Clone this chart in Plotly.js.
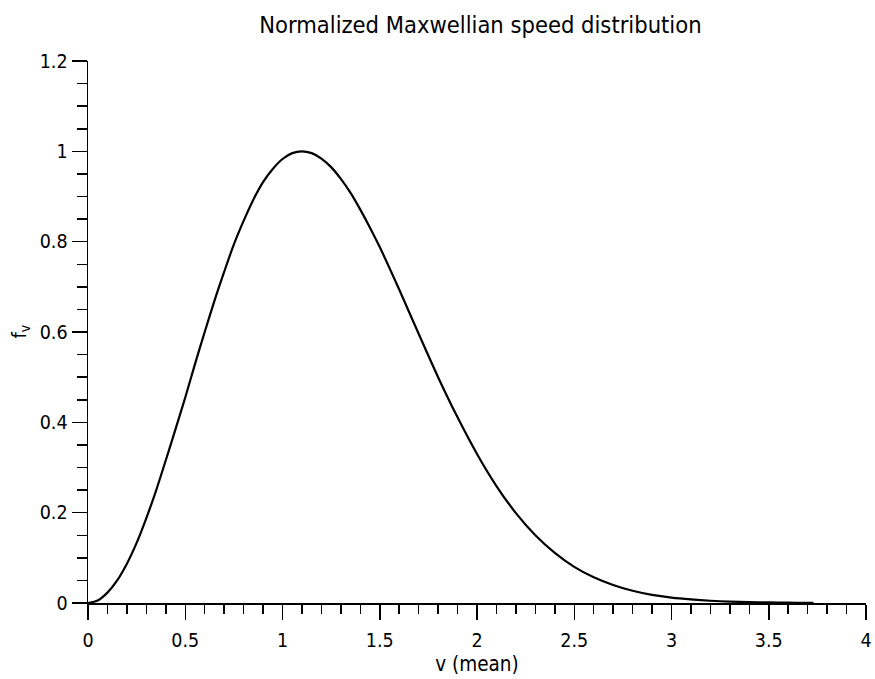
<!DOCTYPE html>
<html>
<head>
<meta charset="utf-8">
<script src="https://cdn.plot.ly/plotly-3.0.1.min.js"></script>
<style>html,body{margin:0;padding:0;background:#fff}</style>
</head>
<body>
<div id="chart" style="width:875px;height:679px"></div>
<script>
const speed = [0,0.05,0.1,0.15,0.2,0.25,0.3,0.35,0.4,0.45,0.5,0.55,0.6,0.65,0.7,0.75,0.8,0.85,0.9,0.95,1.0,1.05,1.1,1.15,1.2,1.25,1.3,1.35,1.4,1.45,1.5,1.6,1.7,1.8,1.9,2.0,2.1,2.2,2.3,2.4,2.5,2.6,2.7,2.8,2.9,3.0,3.1,3.2,3.3,3.4,3.5,3.6,3.7,3.73];
const density = [0,0.0057,0.023,0.05,0.087,0.133,0.188,0.249,0.316,0.385,0.455,0.529,0.6,0.669,0.733,0.794,0.846,0.893,0.932,0.961,0.983,0.996,1.0,0.996,0.984,0.965,0.939,0.908,0.871,0.831,0.788,0.694,0.596,0.5,0.411,0.33,0.259,0.199,0.15,0.111,0.08,0.057,0.04,0.027,0.018,0.012,0.008,0.005,0.003,0.002,0.0012,0.0007,0.0004,0.0003];

const font = "DejaVu Sans Condensed, DejaVu Sans, sans-serif";
Plotly.newPlot('chart', [{
  x: speed, y: density, type: 'scatter', mode: 'lines',
  line: {color: '#000', width: 2.2, shape: 'spline', smoothing: 0.8},
  hoverinfo: 'skip'
}], {
  width: 875, height: 679,
  margin: {l: 88, r: 9, t: 61, b: 76},
  paper_bgcolor: '#fff', plot_bgcolor: '#fff',
  showlegend: false,
  font: {family: font, color: '#000', size: 19},
  title: {text: 'Normalized Maxwellian speed distribution', font: {family: font, size: 23.5, color: '#000'}, x: 0.549, xanchor: 'center', y: 0.963, yanchor: 'middle'},
  xaxis: {
    range: [0, 4], dtick: 0.5, tick0: 0, showgrid: false, zeroline: false,
    showline: true, linecolor: '#000', linewidth: 1.5,
    ticks: 'outside', ticklen: 15, tickwidth: 1.5, tickcolor: '#000',
    minor: {dtick: 0.1, tick0: 0, ticks: 'outside', ticklen: 9, tickwidth: 1.5, tickcolor: '#000', showgrid: false},
    tickfont: {size: 19.5}, ticklabelstandoff: 4,
    title: {text: 'v (mean)', font: {size: 20.5}, standoff: 2}
  },
  yaxis: {
    range: [0, 1.2], dtick: 0.2, tick0: 0, showgrid: false, zeroline: false,
    showline: true, linecolor: '#000', linewidth: 1.5,
    ticks: 'outside', ticklen: 15, tickwidth: 1.5, tickcolor: '#000',
    minor: {dtick: 0.05, tick0: 0, ticks: 'outside', ticklen: 10, tickwidth: 1.5, tickcolor: '#000', showgrid: false},
    tickfont: {size: 19.5}
  },
  annotations: [{
    text: 'f<sub>v</sub>', xref: 'paper', yref: 'paper', x: -0.088, y: 0.5,
    xanchor: 'center', yanchor: 'middle', textangle: -90, showarrow: false,
    font: {family: font, size: 20, color: '#000'}
  }]
}, {displayModeBar: false, staticPlot: true});
</script>
</body>
</html>
